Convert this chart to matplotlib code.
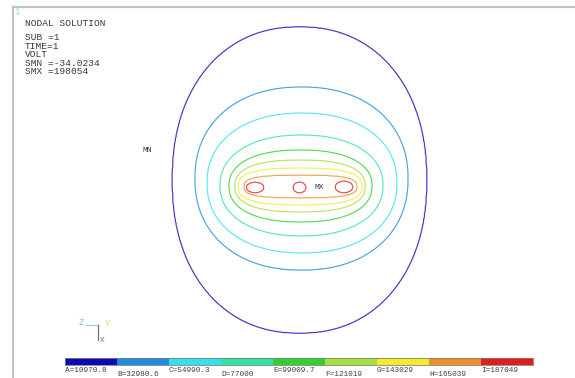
import numpy as np
import matplotlib
matplotlib.use("Agg")
import matplotlib.pyplot as plt
from matplotlib.lines import Line2D
import matplotlib.transforms as mtransforms

# ---- legend of the ANSYS nodal solution (VOLT) ----
level_names = ["A", "B", "C", "D", "E", "F", "G", "H", "I"]
level_values = [10970.8, 32980.6, 54990.3, 77000, 99009.7, 121019, 143029, 165039, 187049]
level_colors = ["#0a0ab4", "#1e8cdc", "#32e1eb", "#2ee6a0", "#2ed22e",
                "#a5e13c", "#f5eb2d", "#eb9128", "#e11e1e"]
smn_value = -34.0234
smx_value = 198054

header_lines = ["SUB =1", "TIME=1", "VOLT", "SMN =-34.0234", "SMX =198054"]

# ---- contour geometry (model units, centre = middle electrode) ----
# levels A..H : centre, half width, half height, superellipse exponent
cont_cx = [-0.5, 1.5, 2.0, 1.5, 0.5, 0.0, 0.0, 0.5]
cont_cy = [7.0, 8.5, 4.0, 1.5, 1.0, 1.0, 0.5, 0.5]
cont_hw = [127, 106.5, 95, 81.5, 71.5, 65, 62, 56.5]
cont_hh = [153, 91.5, 70, 50.5, 36, 26, 18.5, 11.5]
cont_p = [2.2, 2.2, 2.2, 2.2, 2.3, 2.5, 2.7, 3.0]
# level I : three electrode hot spots
elec_x = [-45, -0.5, 44]
elec_y = [-0.5, -0.5, 0.0]
elec_hw = [9, 6.5, 9]
elec_hh = [5.5, 5.5, 6]

W, H = 575, 378
fig = plt.figure(figsize=(W / 100, H / 100), dpi=100)
fig.patch.set_facecolor("white")

ax = fig.add_axes([0, 0, 1, 1])
ax.set_xlim(-300, 275)
ax.set_ylim(-191, 187)
ax.axis("off")

# ---- build the field from the contour geometry ----
xs = np.linspace(-300, 275, 700)
ys = np.linspace(-191, 187, 460)
X, Y = np.meshgrid(xs, ys)


def sup(cx, cy, a, b, p):
    return (np.abs((X - cx) / a) ** p + np.abs((Y - cy) / b) ** p) ** (1.0 / p)


S_list = [sup(cont_cx[j], cont_cy[j], cont_hw[j], cont_hh[j], cont_p[j]) for j in range(8)]
S_I = np.min([sup(elec_x[k], elec_y[k], elec_hw[k], elec_hh[k], 2.0) for k in range(3)], axis=0)
S_list.append(S_I)
S = np.stack(S_list)
lv = np.array(level_values)

count = (S < 1).sum(axis=0)
V = np.empty_like(X)
m0 = count == 0
V[m0] = np.maximum(lv[0] - (S[0][m0] - 1) * (lv[0] - smn_value), smn_value)
m9 = count == 9
V[m9] = lv[8] + (1 - S[8][m9]) * (smx_value - lv[8])
for k in range(1, 9):
    m = count == k
    j = k - 1
    sj = S[j][m]
    sk = S[k][m]
    f = np.clip((1 - sj) / np.maximum(sk - sj, 1e-9), 0, 1)
    V[m] = lv[j] + f * (lv[k] - lv[j])

ax.contour(X, Y, V, levels=level_values, colors=level_colors, linewidths=0.85, alpha=0.8)


def ftxt(px, py, s, **kw):
    fig.text(px / W, 1 - py / H, s, **kw)


mono = ["Liberation Mono", "DejaVu Sans Mono"]
tc = "#383838"

# frame
fig.add_artist(Line2D([13 / W, 1.0], [1 - 7 / H, 1 - 7 / H], color="#c4c4c4", lw=1.6))
fig.add_artist(Line2D([13 / W, 13 / W], [1 - 7 / H, 0.0], color="#c4c4c4", lw=1.6))

ftxt(17.5, 11, "1", color="#7fd8e8", fontsize=6.5, family=mono, va="center", ha="center")
ftxt(25, 23, "NODAL SOLUTION", color=tc, fontsize=6.8, family=mono, va="center")
ftxt(25, 33.2, "\n".join(header_lines), color=tc, fontsize=6.8, family=mono,
     va="top", ha="left", linespacing=0.93)

# MN / MX markers
ax.text(-153, 37, "MN", color=tc, fontsize=5.8, family=mono, ha="center", va="center")
ax.text(19, 0, "MX", color=tc, fontsize=5.8, family=mono, ha="center", va="center")

# triad
fig.add_artist(Line2D([86 / W, 98 / W], [1 - 325 / H, 1 - 325 / H], color="#9ccbe8", lw=0.9))
fig.add_artist(Line2D([98 / W, 98 / W], [1 - 325 / H, 1 - 340 / H], color="#707070", lw=0.9))
ftxt(81.5, 322.5, "Z", color="#8cc0e0", fontsize=6.5, family=mono, ha="center", va="center")
ftxt(108, 323, "Y", color="#d8d870", fontsize=6.5, family=mono, ha="center", va="center")
ftxt(102.5, 340, "X", color="#707070", fontsize=5.5, family=mono, ha="center", va="center")

# ---- colour legend bar ----
cax = fig.add_axes([65 / W, 1 - 365 / H, 468 / W, 7 / H])
idx = np.arange(len(level_values))
cax.barh(0, 1, left=idx, height=1, color=level_colors, align="center")
cax.set_xlim(0, len(level_values))
cax.set_ylim(-0.5, 0.5)
cax.set_xticks([])
cax.set_yticks([])
for sp in cax.spines.values():
    sp.set_color("#808080")
    sp.set_linewidth(0.6)

trans = mtransforms.blended_transform_factory(cax.transData, fig.transFigure)
for i, (n, v) in enumerate(zip(level_names, level_values)):
    py = 370.8 if i % 2 == 0 else 374.6
    cax.text(i, 1 - py / H, f"{n}={v:g}", transform=trans, color="#404040",
             fontsize=5.6, family=mono, ha="left", va="center", clip_on=False)

fig.savefig("out.png", dpi=100, facecolor="white")
